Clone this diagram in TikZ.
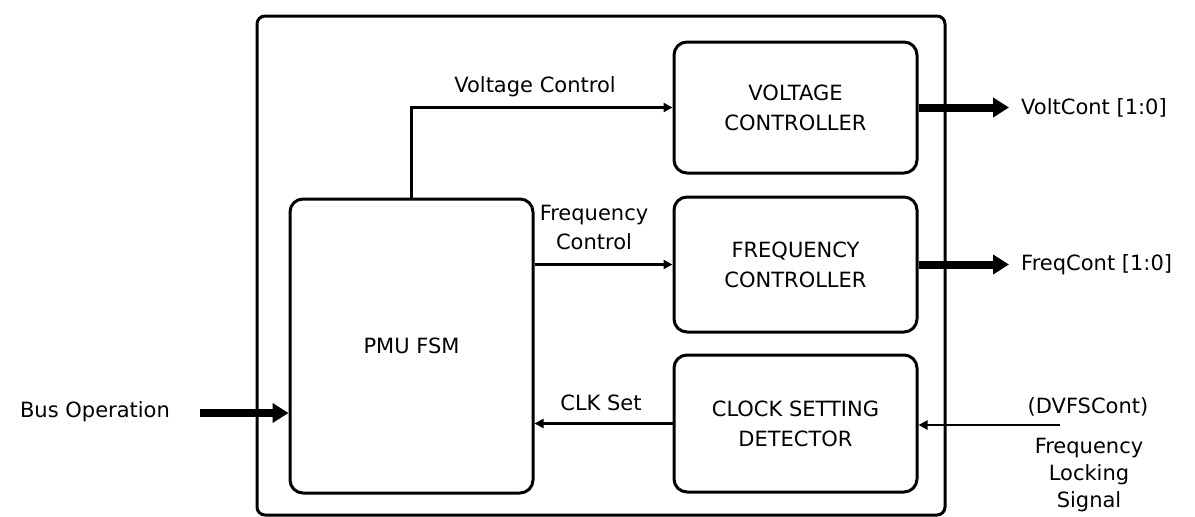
\documentclass[tikz,border=0pt]{standalone}
\usepackage{fontspec}
\setmainfont{DejaVu Sans}
\usetikzlibrary{arrows.meta,calc}
\begin{document}
\begin{tikzpicture}[x=1pt,y=-1pt,
  every node/.style={font=\fontsize{21}{30}\selectfont, inner sep=0pt},
  blk/.style={draw, line width=3pt, rounded corners=13pt, minimum width=243pt, align=center},
  sig/.style={line width=2.8pt, -{Triangle[length=9pt,width=9pt]}},
  busarrow/.style={line width=8pt, -{Triangle[length=16pt,width=19pt]}},
  lbl/.style={align=center}]
\useasboundingbox (0,0) rectangle (1195,517);
% outer frame
\node[draw, line width=3pt, rounded corners=8pt, minimum width=688pt, minimum height=499pt] (sys) at (601,265.5) {};
% blocks
\node[blk, minimum height=294pt] (pmu) at (411.5,346) {PMU FSM};
\node[blk, minimum height=131pt] (vc) at (795.5,107.5) {VOLTAGE\\CONTROLLER};
\node[blk, minimum height=135pt] (fc) at (795.5,264.5) {FREQUENCY\\CONTROLLER};
\node[blk, minimum height=137pt] (csd) at (795.5,423.5) {CLOCK SETTING\\DETECTOR};
% labels
\node[lbl] (lvc) at (535,87) {Voltage Control};
\node[lbl, font=\fontsize{21}{29}\selectfont] (lfc) at (594,227.5) {Frequency\\Control};
\node[lbl] (lclk) at (601,403) {CLK Set};
\node[lbl] (lbus) at (95,412) {Bus Operation};
\node[lbl, anchor=west] (lvo) at (1021,107.5) {VoltCont [1:0]};
\node[lbl, anchor=west] (lfo) at (1021,264.5) {FreqCont [1:0]};
\node[lbl] (ldv) at (1088,407) {(DVFSCont)};
\node[lbl, font=\fontsize{21}{27}\selectfont] (lfl) at (1089,475) {Frequency\\Locking\\Signal};
\coordinate (busin) at (200,413);
\coordinate (dvin) at (1060,425);
% connectors
\draw[sig] (pmu.north) |- (vc.west);
\draw[sig] (fc.west -| pmu.east) -- (fc.west);
\draw[sig] (csd.west) -- (csd.west -| pmu.east);
\draw[sig] (dvin) -- (dvin -| csd.east);
\draw[busarrow] (busin) -- (busin -| pmu.west);
\draw[busarrow, shorten >=12pt] (vc.east) -- (lvo.west);
\draw[busarrow, shorten >=12pt] (fc.east) -- (lfo.west);
\end{tikzpicture}
\end{document}
